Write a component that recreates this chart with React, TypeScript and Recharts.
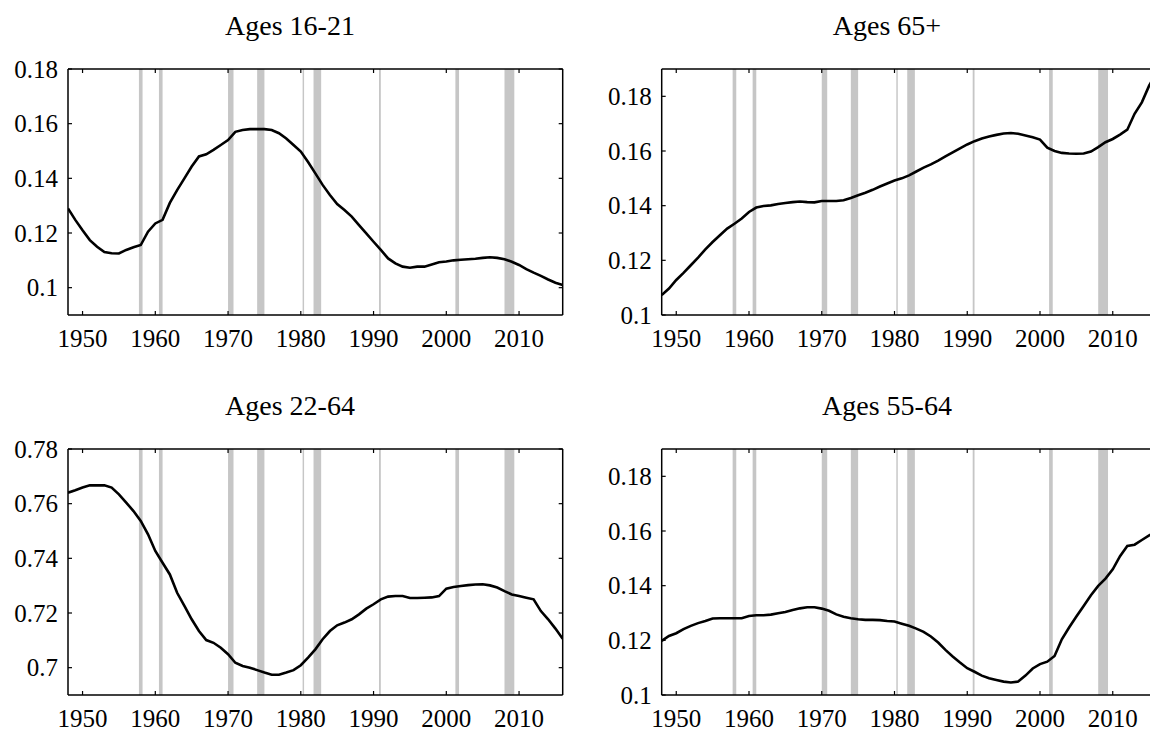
import React from 'react';
import { ComposedChart, Line, XAxis, YAxis, ReferenceArea } from 'recharts';

const years = [1948, 1949, 1950, 1951, 1952, 1953, 1954, 1955, 1956, 1957, 1958, 1959, 1960, 1961, 1962, 1963, 1964, 1965, 1966, 1967, 1968, 1969, 1970, 1971, 1972, 1973, 1974, 1975, 1976, 1977, 1978, 1979, 1980, 1981, 1982, 1983, 1984, 1985, 1986, 1987, 1988, 1989, 1990, 1991, 1992, 1993, 1994, 1995, 1996, 1997, 1998, 1999, 2000, 2001, 2002, 2003, 2004, 2005, 2006, 2007, 2008, 2009, 2010, 2011, 2012, 2013, 2014, 2015, 2016];

const ages16to21 = [0.129, 0.1248, 0.121, 0.1174, 0.115, 0.113, 0.1126, 0.1125, 0.1138, 0.1148, 0.1156, 0.1205, 0.1235, 0.1248, 0.131, 0.1357, 0.14, 0.1443, 0.148, 0.1488, 0.1504, 0.1522, 0.154, 0.157, 0.1577, 0.158, 0.158, 0.158, 0.1577, 0.1565, 0.1546, 0.1522, 0.1498, 0.146, 0.1418, 0.1376, 0.1339, 0.1306, 0.1284, 0.126, 0.1229, 0.1199, 0.1168, 0.1138, 0.1107, 0.1089, 0.1077, 0.1073, 0.1077, 0.1077, 0.1085, 0.1093, 0.1096, 0.11, 0.1102, 0.1104, 0.1106, 0.1109, 0.1111, 0.1109, 0.1104, 0.1095, 0.1083, 0.1068, 0.1055, 0.1043, 0.103, 0.1018, 0.101];

const ages65plus = [0.1073, 0.1097, 0.1128, 0.1154, 0.1182, 0.121, 0.124, 0.1267, 0.1292, 0.1316, 0.1334, 0.1353, 0.1377, 0.1393, 0.1399, 0.1401, 0.1406, 0.141, 0.1413, 0.1415, 0.1413, 0.1412, 0.1417, 0.1417, 0.1417, 0.142, 0.1428, 0.1438, 0.1447, 0.1458, 0.147, 0.1481, 0.1492, 0.15, 0.1511, 0.1525, 0.1539, 0.1551, 0.1565, 0.158, 0.1595, 0.161, 0.1624, 0.1636, 0.1646, 0.1653, 0.1659, 0.1664, 0.1666, 0.1663, 0.1657, 0.165, 0.1642, 0.1612, 0.16, 0.1593, 0.1591, 0.159, 0.1591, 0.1598, 0.1614, 0.1632, 0.1644, 0.166, 0.1678, 0.1736, 0.1778, 0.1839, 0.1885];

const ages22to64 = [0.764, 0.7649, 0.7659, 0.7667, 0.7667, 0.7667, 0.7659, 0.7634, 0.7604, 0.7573, 0.7537, 0.7488, 0.7427, 0.7384, 0.7341, 0.7274, 0.7226, 0.7177, 0.7134, 0.7101, 0.7091, 0.7073, 0.7049, 0.7018, 0.7006, 0.7, 0.6991, 0.6982, 0.6974, 0.6974, 0.6982, 0.6991, 0.7009, 0.7037, 0.7067, 0.7104, 0.7134, 0.7155, 0.7165, 0.7177, 0.7195, 0.7216, 0.7232, 0.725, 0.726, 0.7262, 0.7262, 0.7255, 0.7255, 0.7256, 0.7257, 0.7262, 0.7289, 0.7295, 0.7299, 0.7302, 0.7304, 0.7305, 0.7301, 0.7293, 0.728, 0.7268, 0.7262, 0.7256, 0.725, 0.7207, 0.7177, 0.7143, 0.7106];

const ages55to64 = [0.1198, 0.1216, 0.1226, 0.1241, 0.1253, 0.1263, 0.1271, 0.128, 0.1281, 0.1281, 0.1281, 0.1281, 0.1289, 0.1292, 0.1292, 0.1294, 0.1299, 0.1304, 0.1311, 0.1317, 0.1321, 0.1321, 0.1316, 0.1308, 0.1295, 0.1286, 0.1281, 0.1277, 0.1275, 0.1275, 0.1274, 0.1271, 0.1269, 0.1261, 0.1253, 0.1243, 0.1231, 0.1214, 0.1192, 0.1165, 0.1141, 0.1119, 0.1098, 0.1085, 0.1071, 0.1061, 0.1055, 0.1049, 0.1046, 0.1049, 0.1071, 0.1097, 0.1113, 0.1122, 0.1143, 0.1204, 0.1247, 0.1287, 0.1326, 0.1365, 0.1399, 0.1426, 0.146, 0.1508, 0.1545, 0.155, 0.1567, 0.1584, 0.1595];

const recessionStarts = [1957.75, 1960.5, 1970.0, 1974.0, 1980.25, 1981.75, 1990.75, 2001.25, 2008.0];
const recessionEnds = [1958.25, 1961.0, 1970.75, 1975.0, 1980.45, 1982.8, 1991.0, 2001.75, 2009.35];

const xTicks = [1950, 1960, 1970, 1980, 1990, 2000, 2010];
const yTicksLow = [0.1, 0.12, 0.14, 0.16, 0.18];
const yTicksPrime = [0.7, 0.72, 0.74, 0.76, 0.78];

const FONT = '"Liberation Serif", "Times New Roman", serif';

const toRows = (vals: number[]) => years.map((y, i) => ({ year: y, v: vals[i] }));
const fmt = (v: number) => String(Number(v.toFixed(2)));

const XTick = (props: any) => (
  <text x={props.x} y={props.y} dy="0.71em" textAnchor="middle" fontSize={25} fontFamily={FONT} style={{ fontFamily: FONT }} fill="#000">
    {props.payload.value}
  </text>
);

const YTick = (props: any) => (
  <text x={props.x} y={props.y} dy="0.34em" textAnchor="end" fontSize={25} fontFamily={FONT} style={{ fontFamily: FONT }} fill="#000">
    {fmt(props.payload.value)}
  </text>
);

const NoTick = () => <g />;

type PanelProps = {
  left: number;
  top: number;
  yAxisWidth: number;
  chartWidth: number;
  rightMargin: number;
  values: number[];
  domain: [number, number];
  yTicks: number[];
};

function Panel({ left, top, yAxisWidth, chartWidth, rightMargin, values, domain, yTicks }: PanelProps) {
  const data = toRows(values);
  const axisLine = { stroke: '#000', strokeWidth: 1.5 };
  const tickLine = { stroke: '#000', strokeWidth: 1.2 };
  return (
    <div style={{ position: 'absolute', left, top }}>
      <ComposedChart
        width={chartWidth}
        height={370}
        data={data}
        margin={{ top: 68, right: rightMargin, bottom: 0, left: 0 }}
      >
        <XAxis
          dataKey="year"
          type="number"
          domain={[1948, 2016]}
          ticks={xTicks}
          allowDataOverflow
          height={55}
          tickSize={-4}
          tickMargin={18}
          tick={<XTick />}
          axisLine={axisLine}
          tickLine={tickLine}
        />
        <XAxis
          xAxisId="top"
          dataKey="year"
          type="number"
          orientation="top"
          domain={[1948, 2016]}
          ticks={xTicks}
          allowDataOverflow
          height={1}
          tickSize={-4}
          tick={<NoTick />}
          axisLine={axisLine}
          tickLine={tickLine}
        />
        <YAxis
          type="number"
          domain={domain}
          ticks={yTicks}
          allowDataOverflow
          width={yAxisWidth}
          tickSize={-4}
          tickMargin={14}
          tick={<YTick />}
          axisLine={axisLine}
          tickLine={tickLine}
        />
        <YAxis
          yAxisId="right"
          type="number"
          orientation="right"
          domain={domain}
          ticks={yTicks}
          allowDataOverflow
          width={1}
          tickSize={-4}
          tick={<NoTick />}
          axisLine={axisLine}
          tickLine={tickLine}
        />
        {recessionStarts.map((s, i) => (
          <ReferenceArea
            key={i}
            x1={s}
            x2={recessionEnds[i]}
            fill="#c6c6c6"
            fillOpacity={1}
            stroke="none"
            ifOverflow="hidden"
          />
        ))}
        <Line
          dataKey="v"
          type="linear"
          stroke="#000"
          strokeWidth={2.6}
          dot={false}
          activeDot={false}
          isAnimationActive={false}
        />
      </ComposedChart>
    </div>
  );
}

const titles = ['Ages 16-21', 'Ages 65+', 'Ages 22-64', 'Ages 55-64'];
const titleX = [290, 887, 290, 887];
const titleY = [35, 35, 415, 415];

export default function App() {
  return (
    <div
      style={{
        position: 'absolute',
        left: 0,
        top: 0,
        width: 1150,
        height: 733,
        overflow: 'hidden',
        background: '#fff',
        fontFamily: FONT,
      }}
    >
      <Panel left={0} top={0} yAxisWidth={68} chartWidth={575} rightMargin={11.3} values={ages16to21} domain={[0.09, 0.18]} yTicks={yTicksLow} />
      <Panel left={575} top={0} yAxisWidth={86.7} chartWidth={600} rightMargin={17.6} values={ages65plus} domain={[0.1, 0.19]} yTicks={yTicksLow} />
      <Panel left={0} top={380} yAxisWidth={68} chartWidth={575} rightMargin={11.3} values={ages22to64} domain={[0.69, 0.78]} yTicks={yTicksPrime} />
      <Panel left={575} top={380} yAxisWidth={86.7} chartWidth={600} rightMargin={17.6} values={ages55to64} domain={[0.1, 0.19]} yTicks={yTicksLow} />
      <svg width={1150} height={733} style={{ position: 'absolute', left: 0, top: 0, pointerEvents: 'none' }}>
        {titles.map((t, i) => (
          <text key={t} x={titleX[i]} y={titleY[i]} textAnchor="middle" fontSize={28} fontFamily={FONT} fill="#000">
            {t}
          </text>
        ))}
      </svg>
    </div>
  );
}
